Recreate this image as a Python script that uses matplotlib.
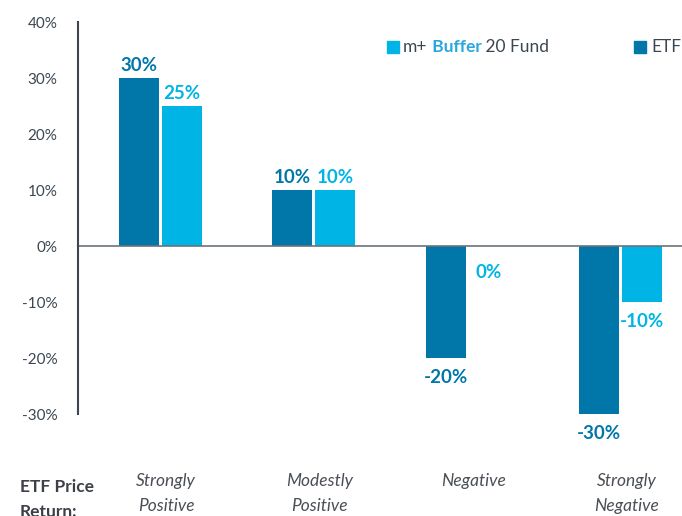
import numpy as np
import matplotlib.pyplot as plt
from matplotlib.patches import Rectangle

plt.rcParams['font.family'] = ['Lato', 'DejaVu Sans']

# Data
categories = ["Strongly\nPositive", "Modestly\nPositive", "Negative", "Strongly\nNegative"]
etf = [30, 10, -20, -30]
fund = [25, 10, 0, -10]
yticks = [-30, -20, -10, 0, 10, 20, 30, 40]

dark = "#0077a8"
light = "#00b5e5"
text_gray = "#3b4650"

fig = plt.figure(figsize=(6.82, 5.16), dpi=100)
ax = fig.add_axes([78 / 682, 1 - 414 / 516, 1 - 78 / 682, (414 - 22) / 516])

x = np.arange(len(categories))
w = 0.26
off = 0.14
ax.bar(x - off, etf, w, color=dark)
ax.bar(x + off, fund, w, color=light)

# value labels
for xs, vals, col in [(x - off, etf, dark), (x + off, fund, light)]:
    for xi, v in zip(xs, vals):
        if v > 0:
            ax.annotate(f"{v}%", (xi, v), xytext=(0, 3), textcoords="offset points",
                        ha="center", va="bottom", color=col, fontsize=13.5, fontweight="bold")
        else:
            ax.annotate(f"{v}%", (xi, v), xytext=(0, -8 if v < 0 else -13),
                        textcoords="offset points", ha="center", va="top",
                        color=col, fontsize=13.5, fontweight="bold")

ax.axhline(0, color="#6b737a", linewidth=1.2)
ax.set_ylim(-30, 40)
ax.set_xlim(-0.535, 3.40)
ax.set_yticks(yticks)
ax.set_yticklabels([f"{t}%" for t in yticks], color=text_gray, fontsize=11)
ax.tick_params(axis="y", length=0, pad=15)
ax.set_xticks([])
for s in ["top", "right", "bottom"]:
    ax.spines[s].set_visible(False)
ax.spines["left"].set_color("#3d4550")
ax.spines["left"].set_linewidth(1.5)

# category labels below the chart
for xi, c in zip(x, categories):
    ax.text(xi + 0.04, -40.6, c, ha="center", va="top", style="italic",
            color="#4a4f55", fontsize=12.5, linespacing=1.7, clip_on=False)
fig.text(20 / 682, 1 - 479 / 516, "ETF Price\nReturn:", ha="left", va="top",
         color="#3d4046", fontsize=12.5, fontweight="bold", linespacing=1.7)

# legend
fig.patches.append(Rectangle((387 / 682, 1 - 53 / 516), 12 / 682, 12 / 516,
                             transform=fig.transFigure, color=light))
t1 = fig.text(403 / 682, 1 - 47 / 516, "m+", va="center", color=text_gray, fontsize=12.5)
t2 = ax.annotate(" Buffer", xy=(1, 0), xycoords=t1, va="bottom", color="#2aa7df",
                 fontsize=12.5, fontweight="bold")
ax.annotate(" 20 Fund", xy=(1, 0), xycoords=t2, va="bottom", color=text_gray, fontsize=12.5)
fig.patches.append(Rectangle((634 / 682, 1 - 53 / 516), 12 / 682, 12 / 516,
                             transform=fig.transFigure, color=dark))
fig.text(651 / 682, 1 - 47 / 516, "ETF", va="center", color=text_gray, fontsize=12.5)

fig.savefig("out.png", dpi=100)
